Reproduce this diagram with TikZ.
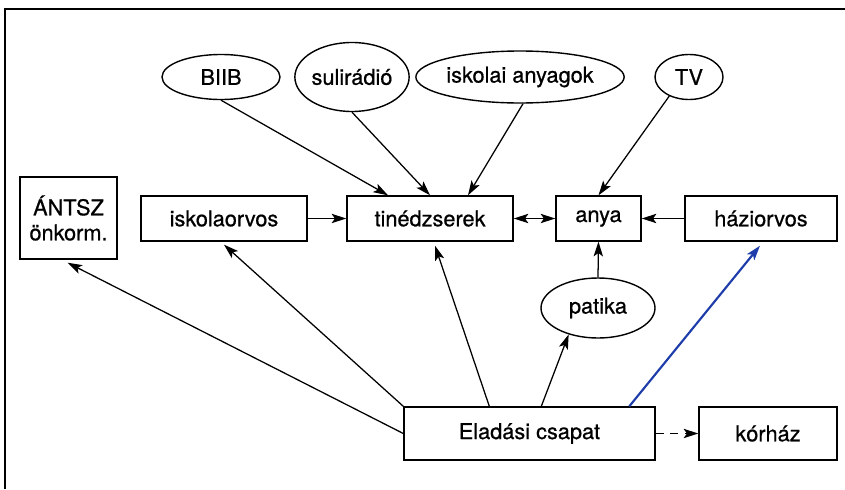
\documentclass[tikz,border=0pt]{standalone}
\usepackage{fontspec}
\setmainfont{TeX Gyre Heros}[FakeBold=0.7]
\usetikzlibrary{arrows.meta,calc,shapes.geometric}
\definecolor{blueline}{RGB}{30,60,170}
\tikzset{tipA/.tip={Stealth[length=11pt,width=7pt,inset=2.5pt]}}
\begin{document}
\begin{tikzpicture}[x=0.75pt,y=-0.75pt,
  every node/.style={font=\fontsize{16.3}{18.75}\selectfont, inner sep=0pt},
  boxnode/.style={draw, line width=1.05pt, rectangle},
  ellnode/.style={draw, line width=1.05pt, ellipse},
  arr/.style={line width=0.95pt, -tipA},
  darr/.style={line width=0.95pt, tipA-tipA}
]
\useasboundingbox (0,0) rectangle (845,489);
% frame
\draw[line width=1.3pt] (5,489) -- (5,9) -- (845,9);

% top ellipses
\node[ellnode, minimum width=88.5pt, minimum height=33.75pt] (biib) at (221,77) {BIIB};
\node[ellnode, minimum width=83.25pt, minimum height=51.75pt] (suli) at (352,77) {sulirádió};
\node[ellnode, minimum width=146.25pt, minimum height=39pt] (isk) at (520,77) {iskolai anyagok};
\node[ellnode, minimum width=51pt, minimum height=33.75pt] (tv) at (689,77) {TV};

% middle row
\node[boxnode, minimum width=72.75pt, minimum height=61.5pt, align=center] (antsz) at (68.5,218) {ÁNTSZ\\önkorm.};
\node[boxnode, minimum width=124.5pt, minimum height=33.75pt] (iskorv) at (224,218.5) {iskolaorvos};
\node[boxnode, minimum width=124.5pt, minimum height=33.75pt] (tin) at (430,218.5) {tinédzserek};
\node[boxnode, minimum width=63.75pt, minimum height=33.75pt] (anya) at (598.5,218.5) {anya};
\node[boxnode, minimum width=114pt, minimum height=33.75pt] (hazi) at (761,218.5) {háziorvos};

% patika
\node[ellnode, minimum width=85.5pt, minimum height=45pt] (patika) at (598,308) {patika};

% bottom row
\node[boxnode, minimum width=188.25pt, minimum height=39.75pt] (elad) at (529.5,433.5) {Eladási csapat};
\node[boxnode, minimum width=103.5pt, minimum height=39.75pt] (korhaz) at (768,433.5) {kórház};

% connectors to tinédzserek / anya
\draw[arr] (biib.south) -- ($(tin.north)+(-42,0)$);
\draw[arr] (suli.south) -- (tin.north);
\draw[arr] ($(isk.south)+(3,0)$) -- ($(tin.north)+(38,0)$);
\draw[arr] (tv.224) -- (anya.north);
\draw[arr] (iskorv.east) -- (tin.west);
\draw[darr] (tin.east) -- (anya.west);
\draw[arr] (hazi.west) -- (anya.east);
\draw[arr] (patika.north) -- (anya.south);

% from Eladási csapat
\draw[arr] (elad.west) -- ($(antsz.south)+(-1,3)$);
\draw[arr] (elad.north west) -- ($(iskorv.south)+(0,3)$);
\draw[arr] ($(elad.north west)+(86,0)$) -- ($(tin.south)+(5,4)$);
\draw[arr] ($(elad.north west)+(138,0)$) -- (patika.222);
\draw[line width=1.6pt, draw=blueline, fill=blueline, -{Stealth[length=11pt,width=7pt,inset=2.5pt]}] ($(elad.north west)+(226,0)$) -- ($(hazi.south)+(-1,4)$);
\draw[arr, dash pattern=on 6pt off 5pt] (elad.east) -- (korhaz.west);
\end{tikzpicture}
\end{document}
